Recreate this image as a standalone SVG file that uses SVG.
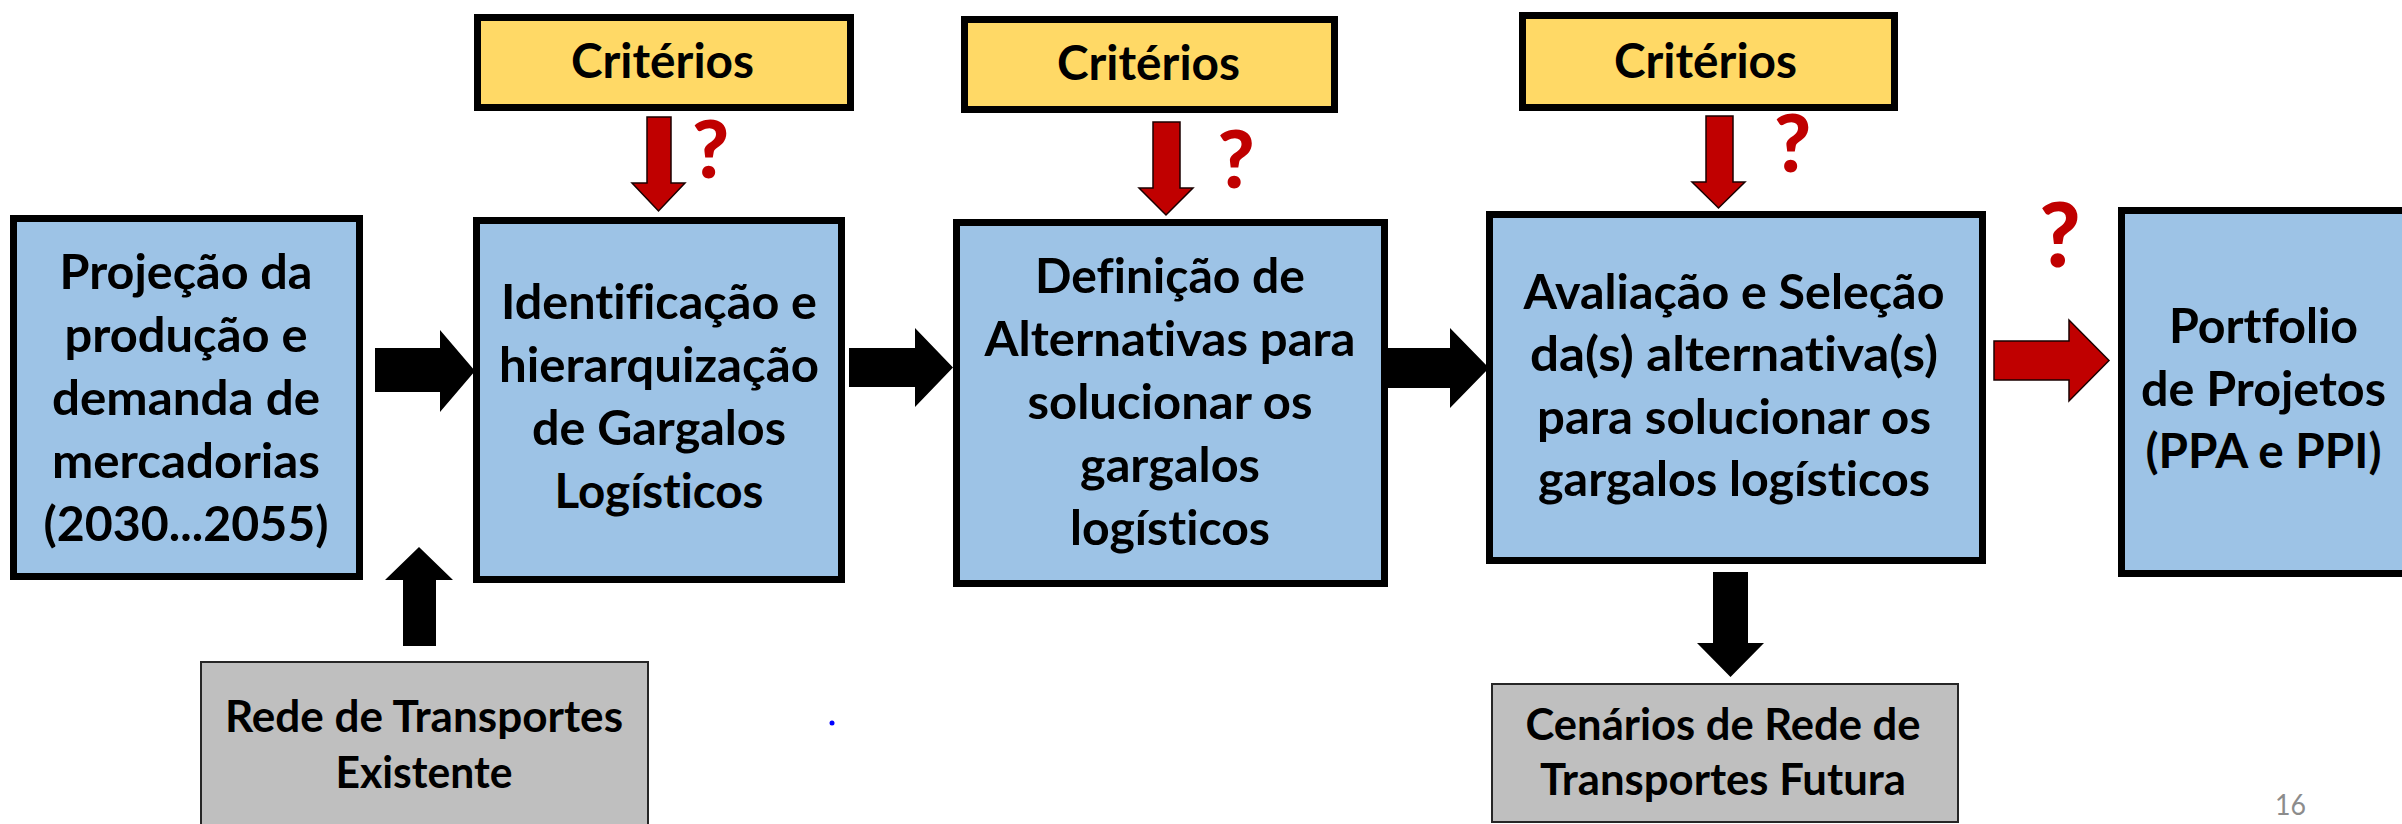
<svg xmlns="http://www.w3.org/2000/svg" width="2402" height="824" viewBox="0 0 2402 824">
<style>
.bg{fill:#ffffff}
.blue{fill:#9DC3E6;stroke:#000;stroke-width:7}
.yel{fill:#FFD966;stroke:#000;stroke-width:7}
.gray{fill:#BFBFBF;stroke:#262626;stroke-width:2}
text{font-variant-ligatures:none;font-feature-settings:"liga" 0,"clig" 0}
.t{font-family:Lato,"Open Sans","Liberation Sans",sans-serif;font-weight:bold;font-size:48px;fill:#000;text-anchor:middle}
.ts{font-family:Lato,"Open Sans","Liberation Sans",sans-serif;font-weight:bold;font-size:43px;fill:#000;text-anchor:middle}
.q{font-family:Lato,"Open Sans","Liberation Sans",sans-serif;font-weight:900;font-size:80px;fill:#C00000;text-anchor:middle}
.blk{fill:#000}
.red{fill:#C00000;stroke:#1a0000;stroke-width:1.5}
.pg{font-family:Lato,"Open Sans","Liberation Sans",sans-serif;font-size:28px;fill:#8C8C8C;text-anchor:middle}
</style>
<rect class="bg" x="0" y="0" width="2402" height="824"/>

<g id="criterios1">
<rect class="yel" x="477.5" y="17.5" width="373" height="90"/>
<text class="t" x="662.5" y="78" textLength="183" lengthAdjust="spacingAndGlyphs">Critérios</text>
</g>
<g id="criterios2">
<rect class="yel" x="964.5" y="19.5" width="370" height="90"/>
<text class="t" x="1148.5" y="80" textLength="183" lengthAdjust="spacingAndGlyphs">Critérios</text>
</g>
<g id="criterios3">
<rect class="yel" x="1522.5" y="15.5" width="372" height="92"/>
<text class="t" x="1705.5" y="78" textLength="183" lengthAdjust="spacingAndGlyphs">Critérios</text>
</g>

<g id="projecao">
<rect class="blue" x="13.5" y="218.5" width="346" height="358"/>
<text class="t" x="186" y="289" textLength="253" lengthAdjust="spacingAndGlyphs">Projeção da</text>
<text class="t" x="186" y="352" textLength="243" lengthAdjust="spacingAndGlyphs">produção e</text>
<text class="t" x="186" y="415" textLength="268" lengthAdjust="spacingAndGlyphs">demanda de</text>
<text class="t" x="186" y="478" textLength="268" lengthAdjust="spacingAndGlyphs">mercadorias</text>
<text class="t" x="186" y="541" textLength="285" lengthAdjust="spacingAndGlyphs">(2030...2055)</text>
</g>

<g id="identificacao">
<rect class="blue" x="476.5" y="220.5" width="365" height="359"/>
<text class="t" x="659" y="319" textLength="316" lengthAdjust="spacingAndGlyphs">Identificação e</text>
<text class="t" x="659" y="382" textLength="320" lengthAdjust="spacingAndGlyphs">hierarquização</text>
<text class="t" x="659" y="445" textLength="254" lengthAdjust="spacingAndGlyphs">de Gargalos</text>
<text class="t" x="659" y="508" textLength="209" lengthAdjust="spacingAndGlyphs">Logísticos</text>
</g>

<g id="definicao">
<rect class="blue" x="956.5" y="222.5" width="428" height="361"/>
<text class="t" x="1170" y="293" textLength="270" lengthAdjust="spacingAndGlyphs">Definição de</text>
<text class="t" x="1170" y="356" textLength="371" lengthAdjust="spacingAndGlyphs">Alternativas para</text>
<text class="t" x="1170" y="419" textLength="285" lengthAdjust="spacingAndGlyphs">solucionar os</text>
<text class="t" x="1170" y="482" textLength="180" lengthAdjust="spacingAndGlyphs">gargalos</text>
<text class="t" x="1170" y="545" textLength="200" lengthAdjust="spacingAndGlyphs">logísticos</text>
</g>

<g id="avaliacao">
<rect class="blue" x="1489.5" y="214.5" width="493" height="346"/>
<text class="t" x="1734" y="309" textLength="421" lengthAdjust="spacingAndGlyphs">Avaliação e Seleção</text>
<text class="t" x="1734" y="371" textLength="408" lengthAdjust="spacingAndGlyphs">da(s) alternativa(s)</text>
<text class="t" x="1734" y="434" textLength="394" lengthAdjust="spacingAndGlyphs">para solucionar os</text>
<text class="t" x="1734" y="496" textLength="392" lengthAdjust="spacingAndGlyphs">gargalos logísticos</text>
</g>

<g id="portfolio">
<rect class="blue" x="2121.5" y="210.5" width="300" height="363"/>
<text class="t" x="2263.5" y="343" textLength="189" lengthAdjust="spacingAndGlyphs">Portfolio</text>
<text class="t" x="2263.5" y="406" textLength="245" lengthAdjust="spacingAndGlyphs">de Projetos</text>
<text class="t" x="2263.5" y="468" textLength="236" lengthAdjust="spacingAndGlyphs">(PPA e PPI)</text>
</g>

<g id="rede-existente">
<rect class="gray" x="201" y="662" width="447" height="170"/>
<text class="ts" x="424" y="732" textLength="398" lengthAdjust="spacingAndGlyphs">Rede de Transportes</text>
<text class="ts" x="424" y="788" textLength="177" lengthAdjust="spacingAndGlyphs">Existente</text>
</g>

<g id="cenarios-futura">
<rect class="gray" x="1492" y="684" width="466" height="138"/>
<text class="ts" x="1723" y="740" textLength="395" lengthAdjust="spacingAndGlyphs">Cenários de Rede de</text>
<text class="ts" x="1723" y="795" textLength="366" lengthAdjust="spacingAndGlyphs">Transportes Futura</text>
</g>

<g id="connectors">
<path class="red" d="M647,117 H671 V183 H685 L658.5,211 L632,183 H647 Z"/>
<path class="red" d="M1153,122 H1180 V188 H1193 L1166,215 L1139,188 H1153 Z"/>
<path class="red" d="M1706,116 H1733 V182 H1745 L1718.5,208 L1692,182 H1706 Z"/>
<path class="blk" d="M375,348 H440 V330 L475,371 L440,412 V392 H375 Z"/>
<path class="blk" d="M849,348 H915 V328 L953,367.5 L915,407 V387 H849 Z"/>
<path class="blk" d="M1388,348 H1450 V328 L1489,368 L1450,408 V388 H1388 Z"/>
<path class="blk" d="M403,646 V580 H385 L419,547 L453,580 H436 V646 Z"/>
<path class="blk" d="M1713,572 H1748 V643 H1764 L1730.5,677 L1697,643 H1713 Z"/>
<path class="red" d="M1994,341 H2069 V320 L2109,360.5 L2069,401 V380 H1994 Z"/>
</g>

<g id="marks">
<text class="q" x="710.5" y="178">?</text>
<text class="q" x="1236" y="188">?</text>
<text class="q" x="1792.5" y="172">?</text>
<text class="q" x="2060" y="267" style="font-size:89px">?</text>
</g>

<circle cx="832" cy="723" r="2.5" fill="#0000FF"/>
<text class="pg" x="2290.5" y="815" textLength="31" lengthAdjust="spacingAndGlyphs">16</text>
</svg>
